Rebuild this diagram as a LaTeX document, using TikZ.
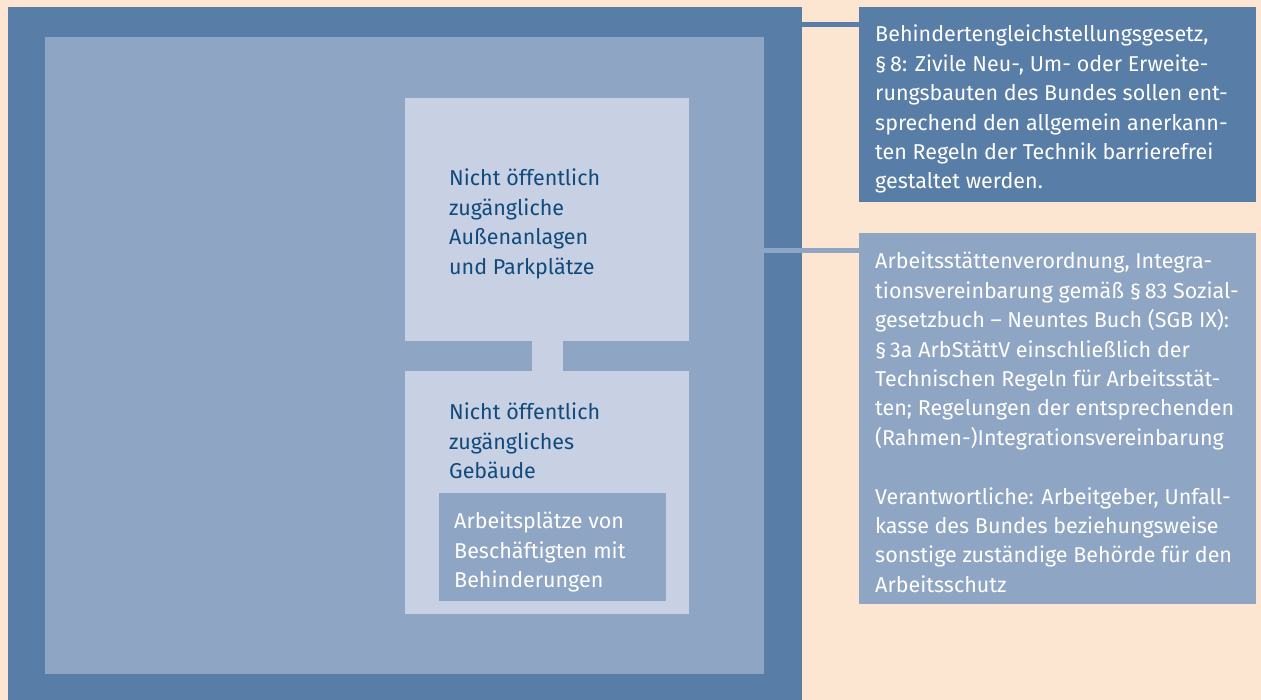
\documentclass[tikz,border=0pt]{standalone}
\usepackage{fontspec}
\setmainfont{Fira Sans}
\usetikzlibrary{positioning}

\definecolor{peach}{HTML}{FDE6D1}
\definecolor{darkblue}{HTML}{587DA7}
\definecolor{midblue}{HTML}{8FA5C4}
\definecolor{lightblue}{HTML}{C8D1E3}
\definecolor{navy}{HTML}{114A7C}

\begin{document}
\begin{tikzpicture}[x=1pt,y=-1pt,
    area/.style={inner sep=0pt,outer sep=0pt,anchor=north west},
    label/.style={inner sep=0pt,anchor=north west,align=left,
      font=\fontsize{21.5}{29.4}\selectfont},
    link/.style={line width=5pt}]
   % background
   \fill[peach] (0,0) rectangle (1261,700);

   % site and building
   \node[area,fill=darkblue,minimum width=794pt,minimum height=693pt] (site) at (8,7) {};
   \node[area,fill=midblue,minimum width=719pt,minimum height=637pt] (ground) at (45,37) {};
   \node[area,fill=lightblue,minimum width=284pt,minimum height=243pt] (outdoor) at (405,98) {};
   \node[area,fill=lightblue,minimum width=284pt,minimum height=243pt] (building) at (405,371) {};
   \node[area,fill=midblue,minimum width=227pt,minimum height=108pt] (workplace) at (439,493) {};
   \draw[lightblue,line width=31pt] (outdoor) -- (building);

   \node[label,text=navy] (outdoortext) at (449,169) {Nicht öffentlich\\zugängliche\\Außenanlagen\\und Parkplätze};
   \node[label,text=navy] (buildingtext) at (449,403) {Nicht öffentlich\\zugängliches\\Gebäude};
   \node[label,text=white] (workplacetext) at (454,512) {Arbeitsplätze von\\Beschäftigten mit\\Behinderungen};

   % legal notes
   \node[area,fill=darkblue,minimum width=397pt,minimum height=195pt] (bgg) at (859,7) {};
   \node[area,fill=midblue,minimum width=397pt,minimum height=371pt] (arbstaett) at (859,233) {};
   \node[label,text=white] (bggtext) at (875,25) {Behindertengleichstellungsgesetz,\\
     §\,8: Zivile Neu-, Um- oder Erweite-\\
     rungsbauten des Bundes sollen ent-\\
     sprechend den allgemein anerkann-\\
     ten Regeln der Technik barrierefrei\\
     gestaltet werden.};
   \node[label,text=white] (arbstaetttext) at (875,252) {Arbeitsstättenverordnung, Integra-\\
     tionsvereinbarung gemäß §\,83 Sozial-\\
     gesetzbuch – Neuntes Buch (SGB IX):\\
     §\,3a ArbStättV einschließlich der\\
     Technischen Regeln für Arbeitsstät-\\
     ten; Regelungen der entsprechenden\\
     (Rahmen-)Integrationsvereinbarung\\[29.4pt]
     Verantwortliche: Arbeitgeber, Unfall-\\
     kasse des Bundes beziehungsweise\\
     sonstige zuständige Behörde für den\\
     Arbeitsschutz};

   % connectors
   \coordinate (bggend) at (802,25);
   \coordinate (arbend) at (764,250.5);
   \draw[link,darkblue] (bggend) -- (bggend -| bgg.west);
   \draw[link,midblue] (arbend) -- (arbend -| arbstaett.west);
\end{tikzpicture}
\end{document}
